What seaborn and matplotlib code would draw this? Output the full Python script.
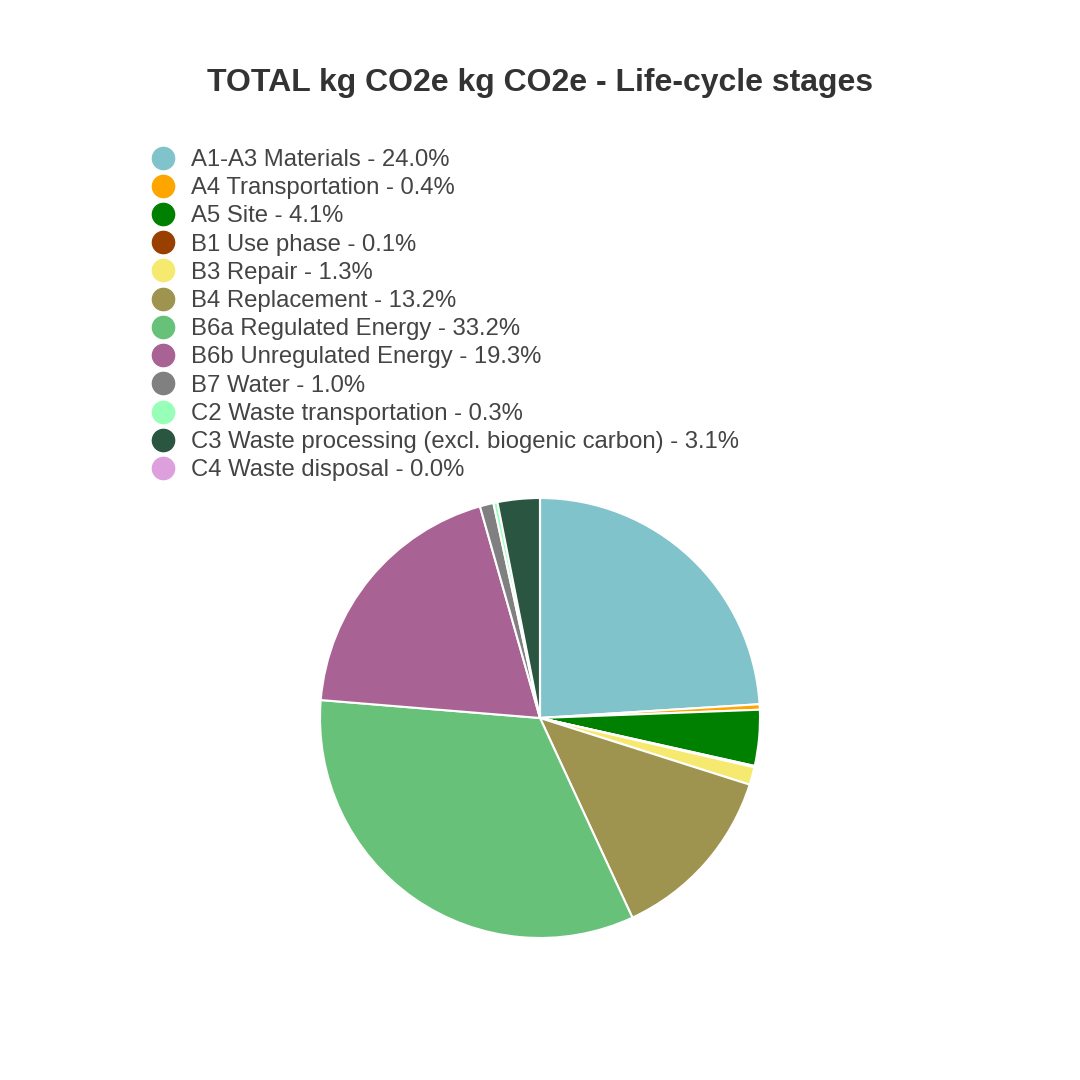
import matplotlib
matplotlib.use("Agg")
import matplotlib.pyplot as plt
from matplotlib.lines import Line2D
import seaborn as sns

sns.set_theme(style="white")
plt.rcParams['font.family'] = ['Arial', 'Liberation Sans', 'DejaVu Sans']

categories = ["A1-A3 Materials", "A4 Transportation", "A5 Site", "B1 Use phase",
              "B3 Repair", "B4 Replacement", "B6a Regulated Energy",
              "B6b Unregulated Energy", "B7 Water", "C2 Waste transportation",
              "C3 Waste processing (excl. biogenic carbon)", "C4 Waste disposal"]
shares = [24.0, 0.4, 4.1, 0.1, 1.3, 13.2, 33.2, 19.3, 1.0, 0.3, 3.1, 0.0]
colors = ["#81C3CB", "#FFA500", "#008000", "#994000", "#F5E96F", "#9E9450",
          "#68C178", "#A86293", "#808080", "#98FFB8", "#2A5540", "#DDA0DD"]
title = "TOTAL kg CO2e kg CO2e - Life-cycle stages"

fig = plt.figure(figsize=(10.8, 10.8), dpi=100)
fig.patch.set_facecolor("white")

ax = fig.add_axes([320/1080, 142/1080, 440/1080, 440/1080])
ax.pie(shares, colors=colors, startangle=90, counterclock=False, radius=1,
       wedgeprops=dict(edgecolor="white", linewidth=1.5))
ax.set_xlim(-1.0, 1.0)
ax.set_ylim(-1.0, 1.0)
ax.set_aspect("equal")
ax.axis("off")

fig.text(0.5, 1 - 83/1080, title, ha="center", va="center",
         fontsize=23, fontweight="bold", color="#333333")

handles = [Line2D([0], [0], marker="o", linestyle="", markersize=16,
                  markerfacecolor=c, markeredgecolor=c) for c in colors]
labels = [f"{n} - {v:.1f}%" for n, v in zip(categories, shares)]
leg = fig.legend(handles, labels, loc="upper left",
                 bbox_to_anchor=(149/1080, 1 - 149/1080),
                 frameon=False, fontsize=17.2, labelspacing=0.26,
                 handletextpad=0.55, handlelength=1.2, borderaxespad=0,
                 borderpad=0)
for t in leg.get_texts():
    t.set_color("#444444")

fig.savefig("out.png", dpi=100, facecolor="white")
